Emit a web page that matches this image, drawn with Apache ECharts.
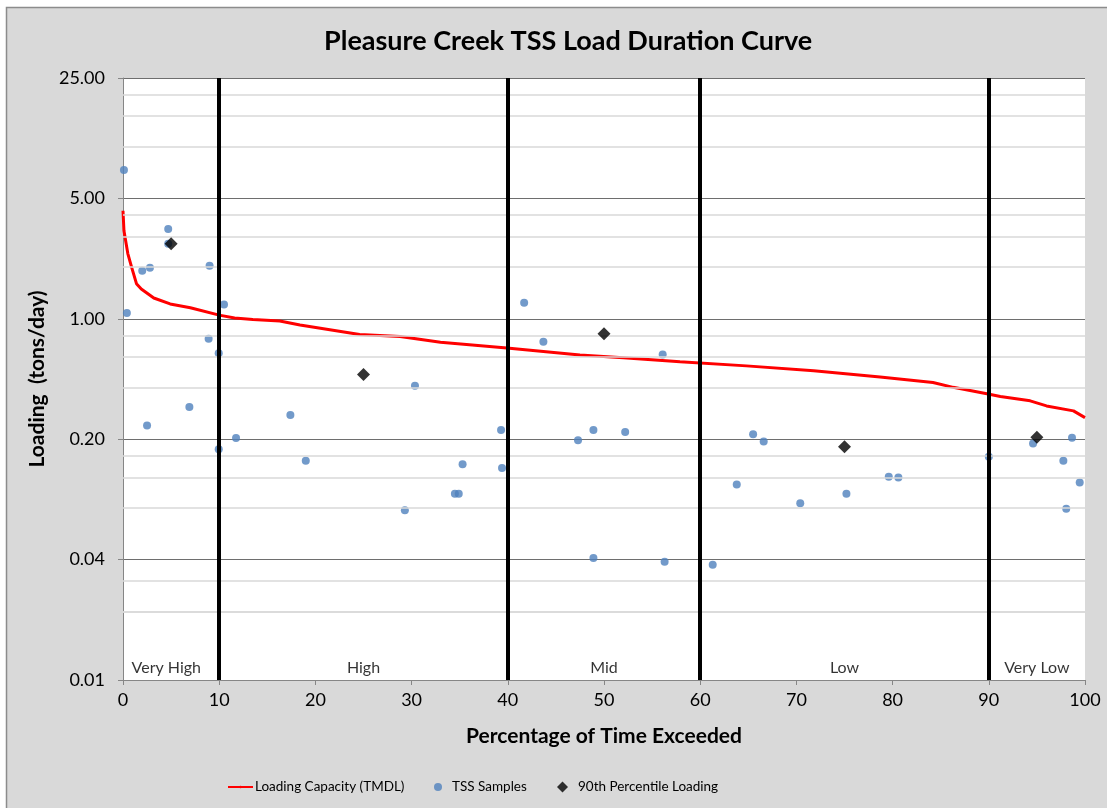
<!DOCTYPE html>
<html>
<head>
<meta charset="utf-8">
<script src="https://cdn.jsdelivr.net/npm/echarts@6/dist/echarts.min.js"></script>
<style>
  html, body { margin: 0; padding: 0; background: #fff; }
  #chart { width: 1107px; height: 808px; }
</style>
</head>
<body>
<div id="chart"></div>
<script>
// loading capacity curve (TMDL)
var capX = [0, 0.1, 0.5, 0.9, 1.4, 1.9, 3.2, 4.9, 7, 10, 11.6, 13.5, 16.3, 18.4, 24.6, 28.8, 33, 39.9, 47.5, 52, 57.9, 64.8, 71.8, 78.7, 84.2, 86.3, 89.8, 91.2, 94.3, 96, 98.8, 100];
var capY = [4.24, 3.24, 2.39, 1.99, 1.6, 1.49, 1.32, 1.22, 1.16, 1.05, 1.01, 0.99, 0.97, 0.92, 0.81, 0.79, 0.73, 0.676, 0.617, 0.594, 0.563, 0.533, 0.499, 0.46, 0.427, 0.40, 0.367, 0.354, 0.334, 0.312, 0.292, 0.267];

// TSS samples
var sampleX = [0.1, 0.4, 2.0, 2.5, 2.8, 4.7, 4.7, 6.9, 8.9, 9.0, 9.95, 9.95, 10.5, 11.75, 17.4, 19.0, 29.3, 30.35, 34.5, 34.9, 35.3, 39.3, 39.4, 41.7, 43.7, 47.3, 48.9, 48.9, 52.2, 56.1, 56.3, 61.3, 63.8, 65.5, 66.6, 70.4, 75.2, 79.6, 80.6, 90.0, 94.6, 97.75, 98.05, 98.65, 99.45];
var sampleY = [7.32, 1.08, 1.90, 0.240, 1.98, 3.32, 2.73, 0.308, 0.765, 2.03, 0.632, 0.175, 1.21, 0.203, 0.276, 0.150, 0.0774, 0.409, 0.0966, 0.0966, 0.143, 0.226, 0.136, 1.24, 0.735, 0.197, 0.226, 0.0409, 0.22, 0.62, 0.0389, 0.0373, 0.109, 0.214, 0.194, 0.085, 0.0966, 0.121, 0.12, 0.158, 0.189, 0.150, 0.079, 0.204, 0.112];

// 90th percentile loading per flow zone
var pctX = [5, 25, 50, 75, 95];
var pctY = [2.73, 0.475, 0.818, 0.181, 0.205];

// flow zones
var zoneNames = ['Very High', 'High', 'Mid', 'Low', 'Very Low'];
var zoneMid = [4.5, 25, 50, 75, 95];
var zoneBreaks = [10, 40, 60, 90];

// y axis (log base 5)
var yTicks = [0.008, 0.04, 0.2, 1, 5, 25];
var minorMult = [2, 3, 4];

var font = 'Lato, "Open Sans", sans-serif';

var minorLines = [];
yTicks.slice(0, -1).forEach(function (t) {
  minorMult.forEach(function (m) { minorLines.push({ yAxis: t * m }); });
});

var chart = echarts.init(document.getElementById('chart'));

var legendText = { fontFamily: font, fontSize: 13.5, color: '#000' };

chart.setOption({
  animation: false,
  backgroundColor: '#fff',
  textStyle: { fontFamily: font },
  graphic: [{
    type: 'rect',
    z: -10,
    silent: true,
    shape: { x: 6.5, y: 7.5, width: 1200, height: 900 },
    style: { fill: '#d9d9d9', stroke: '#8c8c8c', lineWidth: 1.5 }
  }],
  title: {
    text: 'Pleasure Creek TSS Load Duration Curve',
    left: 319,
    top: 23,
    textStyle: { fontFamily: font, fontSize: 27, fontWeight: 'bold', color: '#000' }
  },
  grid: {
    left: 123,
    right: 22,
    top: 78,
    bottom: 128,
    show: true,
    backgroundColor: '#fff',
    borderWidth: 0
  },
  legend: [{
    data: ['Loading Capacity (TMDL)'],
    left: 227, top: 780, padding: 0,
    itemWidth: 25, itemHeight: 3,
    textStyle: Object.assign({ padding: [0, 0, 0, -3] }, legendText)
  }, {
    data: [{ name: 'TSS Samples', icon: 'circle' }],
    left: 434, top: 780, padding: 0,
    itemWidth: 8, itemHeight: 8,
    textStyle: Object.assign({ padding: [0, 0, 0, 5] }, legendText)
  }, {
    data: [{ name: '90th Percentile Loading', icon: 'diamond' }],
    left: 557, top: 780, padding: 0,
    itemWidth: 11, itemHeight: 11,
    textStyle: Object.assign({ padding: [0, 0, 0, 5] }, legendText)
  }],
  xAxis: {
    type: 'value',
    min: 0,
    max: 100,
    interval: 10,
    name: 'Percentage of Time Exceeded',
    nameLocation: 'middle',
    nameGap: 46,
    nameTextStyle: { fontFamily: font, fontSize: 21, fontWeight: 'bold', color: '#000' },
    axisLine: { lineStyle: { color: '#868686', width: 1 } },
    axisTick: { show: true, length: 5, lineStyle: { color: '#868686' } },
    axisLabel: { fontFamily: font, fontSize: 18, color: '#000', margin: 11 },
    splitLine: { show: false }
  },
  yAxis: {
    type: 'log',
    logBase: 5,
    min: 0.008,
    max: 25,
    name: 'Loading  (tons/day)',
    nameLocation: 'middle',
    nameGap: 70,
    nameTextStyle: { fontFamily: font, fontSize: 21, fontWeight: 'bold', color: '#000' },
    axisLine: { show: true, lineStyle: { color: '#868686', width: 1 } },
    axisTick: { show: true, length: 5, lineStyle: { color: '#868686' } },
    axisLabel: {
      fontFamily: font, fontSize: 18, color: '#000', margin: 18,
      formatter: function (v) { return v.toFixed(2); }
    },
    splitLine: { show: true, lineStyle: { color: '#6e6e6e', width: 1 } }
  },
  series: [{
    // zone labels, zone boundaries and minor gridlines
    name: 'zones',
    type: 'scatter',
    z: 1,
    symbolSize: 0,
    silent: true,
    data: zoneNames.map(function (n, i) { return { value: [zoneMid[i], 0.0094], name: n }; }),
    label: {
      show: true,
      position: 'inside',
      formatter: '{b}',
      fontFamily: font,
      fontSize: 16,
      color: '#000'
    },
    markLine: {
      silent: true,
      symbol: 'none',
      animation: false,
      label: { show: false },
      data: minorLines.map(function (d) {
        return { yAxis: d.yAxis, lineStyle: { color: '#d9d9d9', width: 1.5, type: 'solid' } };
      }).concat(zoneBreaks.map(function (b) {
        return { xAxis: b, lineStyle: { color: '#000', width: 4, type: 'solid' } };
      }))
    }
  }, {
    name: 'Loading Capacity (TMDL)',
    type: 'line',
    z: 3,
    symbol: 'none',
    data: capX.map(function (x, i) { return [x, capY[i]]; }),
    lineStyle: { color: '#ff0000', width: 3 },
    itemStyle: { color: '#ff0000' }
  }, {
    name: 'TSS Samples',
    type: 'scatter',
    z: 4,
    symbol: 'circle',
    symbolSize: 8,
    data: sampleX.map(function (x, i) { return [x, sampleY[i]]; }),
    itemStyle: { color: '#4f81bd' }
  }, {
    name: '90th Percentile Loading',
    type: 'scatter',
    z: 5,
    symbol: 'diamond',
    symbolSize: 13,
    data: pctX.map(function (x, i) { return [x, pctY[i]]; }),
    itemStyle: { color: '#000' }
  }]
});
</script>
</body>
</html>
